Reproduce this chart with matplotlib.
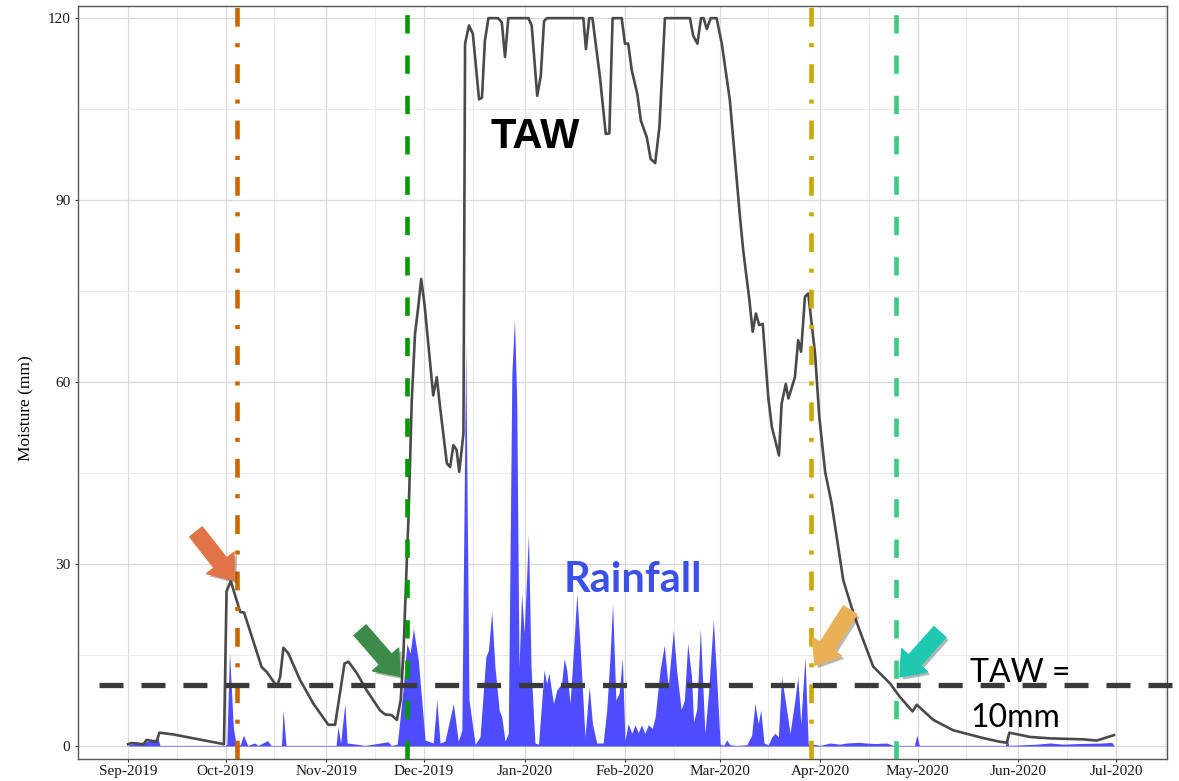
import numpy as np
import pandas as pd
import matplotlib
matplotlib.use("Agg")
import matplotlib.pyplot as plt
import matplotlib.dates as mdates
import matplotlib.patheffects as pe

start = pd.Timestamp("2019-09-01")

# TAW (mm), day offset from 1 Sep 2019
taw_day = [0, 1, 4.7, 5.7, 8.8, 9.6, 14, 29.5, 30.3, 31.6, 34.5, 35.7, 38.1, 41.1, 42.7,
           45.8, 46.8, 47.8, 49.3, 52.9, 57.0, 61.6, 63.7, 64.7, 66.6, 67.8, 70.4, 73.4,
           77.5, 79.1, 81.1, 82.7, 83.9, 84.7, 85.8, 86.3, 87.3, 88.3, 89.3, 90.2, 91.2,
           93.9, 95.0, 96.0, 98.1, 99.1, 100.1, 101.1, 101.9, 103.2, 103.7, 104.9, 106.1,
           108.0, 108.9, 109.8, 110.9, 113.9, 115.0, 116.0, 117.0, 123.2, 124.2, 125.9,
           127.0, 128.0, 128.9, 140.1, 140.9, 141.9, 142.9, 145.2, 147.0, 148.1, 149.1,
           151.9, 152.9, 153.9, 155.0, 156.7, 157.8, 159.6, 160.8, 162.2, 163.5, 165.2,
           172.9, 173.9, 175.2, 176.3, 177.1, 178.1, 179.3, 181.1, 182.7, 185.2, 188.3,
           189.3, 191.2, 192.2, 193.2, 194.2, 195.3, 197.0, 198.1, 200.3, 201.1, 202.4,
           203.2, 205.2, 206.2, 207.1, 208.3, 209.3, 211.4, 212.7, 214.5, 216.5, 220.1,
           223.2, 226.2, 229.3, 234.5, 237.5, 241.4, 242.7, 247.8, 253.9, 263.2, 268.3,
           270.4, 271.2, 277.5, 283.7, 293.9, 298.1, 301.6, 303.4]
taw_mm = [0.3, 0.5, 0.3, 1.0, 0.7, 2.2, 1.9, 0.3, 25.5, 27.2, 22.1, 22.0, 18.0, 13.0, 12.2,
          9.8, 11.4, 16.2, 15.3, 10.9, 7.0, 3.5, 3.5, 7.0, 13.6, 13.9, 12.0, 9.2,
          5.9, 5.2, 5.1, 4.3, 7.6, 14.7, 31.0, 37.8, 57.0, 68.0, 72.4, 77.0, 72.9,
          57.8, 60.8, 55.9, 46.6, 46.0, 49.6, 48.8, 45.2, 51.5, 115.8, 118.8, 117.4,
          106.6, 106.9, 116.3, 120, 120, 119.3, 113.6, 120, 120, 118.8, 107.2,
          110.5, 119.5, 120, 120, 114.9, 120, 120, 110.3, 100.9, 101.0, 120,
          120, 115.8, 115.8, 111.4, 107.5, 103.1, 100.4, 96.8, 96.1, 102.0, 120,
          120, 117.1, 115.8, 120, 120, 118.2, 120, 120, 115.8, 106.4, 87.2,
          81.7, 73.5, 68.3, 71.3, 69.4, 69.6, 57.5, 52.6, 47.9, 56.4, 59.7,
          57.3, 60.8, 66.9, 65.0, 74.1, 74.6, 64.7, 54.3, 45.2, 40.0, 27.3,
          21.9, 17.5, 13.1, 10.3, 8.1, 5.7, 6.8, 4.3, 2.6, 1.3, 0.7,
          0.55, 2.2, 1.5, 1.26, 1.1, 0.9, 1.5, 1.8]

# Rainfall (mm), day offset from 1 Sep 2019
rain_day = [0, 0.5, 5.6, 9.2, 9.8, 29.8, 30.4, 31.2, 32.4, 33.2, 34.5, 35.5, 36.8, 39.0, 40.0,
            42.9, 44.0, 47.2, 47.7, 48.6, 64.0, 64.6, 65.4, 66.7, 67.4, 70.3, 73.0, 80.0,
            81.0, 82.8, 83.2, 84.7, 85.8, 86.8, 87.8, 89.3, 91.4, 93.9, 95.0, 96.0, 97.5,
            100.1, 101.6, 102.7, 103.9, 104.9, 106.8, 108.3, 110.1, 110.9, 111.9, 112.9,
            114.2, 115.0, 116.0, 117.0, 118.1, 118.9, 119.6, 120.3, 121.1, 121.9, 123.2,
            124.0, 125.2, 126.3, 128.0, 128.8, 129.5, 130.9, 131.9, 133.4, 134.2, 135.0,
            136.0, 137.0, 138.1, 139.1, 140.6, 141.9, 142.9, 144.2, 146.2, 147.3, 148.3,
            149.1, 150.1, 151.1, 152.1, 152.9, 153.9, 155.0, 156.0, 157.0, 158.0, 159.0,
            160.1, 161.3, 162.2, 163.7, 165.0, 166.2, 167.8, 168.8, 170.2, 171.2, 172.2,
            173.4, 174.0, 175.0, 176.1, 177.5, 178.6, 180.1, 181.1, 182.2, 183.3, 184.2,
            185.2, 187.3, 190.4, 191.9, 192.9, 193.9, 194.7, 195.7, 197.0, 198.1, 199.1,
            200.1, 201.1, 202.2, 203.7, 205.2, 206.1, 207.0, 208.3, 209.3, 210.9, 213.0,
            216.0, 219.1, 221.1, 224.7, 229.8, 233.4, 235.4, 242.0, 242.7, 243.5, 270.0,
            270.4, 271.0, 279.6, 283.7, 287.8, 291.9, 300.1, 302.7, 303.4]
rain_mm = [0, 0.3, 0.7, 1.3, 0.1, 0.1, 0.3, 15.5, 3.0, 0.3, 0.2, 1.8, 0.1, 0.5, 0.1,
           0.9, 0.1, 0.1, 5.9, 0.1, 0.1, 3.2, 0.5, 7.0, 0.5, 0.3, 0.1, 0.7,
           0.1, 0.3, 2.1, 9.8, 16.9, 15.3, 19.4, 14.2, 1.0, 0.5, 7.6, 0.5, 0.8,
           7.0, 0.8, 2.6, 66.3, 7.6, 0.3, 1.5, 14.7, 15.8, 22.1, 13.0,
           5.9, 4.8, 0.8, 2.1, 61.4, 70.4, 57.0, 13.0, 25.1, 18.6, 35.0,
           13.0, 0.5, 0.3, 12.5, 10.3, 12.0, 7.0, 9.2, 10.3, 14.4, 12.5,
           7.0, 15.3, 25.1, 16.4, 1.5, 9.8, 3.7, 0.5, 0.5, 6.0, 14.7,
           23.5, 7.6, 8.7, 14.4, 0.9, 3.7, 2.1, 3.5, 2.2, 3.5, 2.1,
           3.5, 2.9, 4.8, 12.5, 16.6, 9.8, 19.1, 12.5, 6.0, 7.6, 16.9,
           11.4, 4.0, 6.0, 19.4, 2.1, 8.7, 20.8, 11.4, 0.3, 0.1, 1.0,
           0.2, 0.1, 0.2, 1.8, 7.0, 3.7, 5.9, 0.5, 0.2, 1.5, 2.1,
           1.5, 11.4, 7.6, 2.1, 7.6, 11.4, 3.7, 14.7, 0.3, 0.3, 0.1,
           0.5, 0.3, 0.5, 0.6, 0.4, 0.5, 0.1, 0.1, 1.8, 0.1, 0.1,
           1.6, 0.1, 0.3, 0.5, 0.3, 0.4, 0.5, 0.6, 0.1]

# event lines (day offset, colour, dash pattern)
event_day = [33.5, 85.9, 210.2, 236.4]
event_col = ["#CC6600", "#009900", "#CCA800", "#3CCB80"]
dashdot = (0, (4.1, 3.7, 0.9, 3.6))
dashed = (0, (4.0, 4.8))
event_ls = [dashdot, dashed, dashdot, dashed]

# arrows: tail (day, mm) -> tip (day, mm)
arrow_tail = [(20.9, 35.3), (71.4, 19.1), (222.2, 22.4), (249.8, 18.8)]
arrow_tip = [(32.6, 27.3), (83.7, 11.5), (211.4, 13.3), (237.5, 11.4)]
arrow_col = ["#E07446", "#3B8C4B", "#EAB055", "#1FC9B1"]

threshold = 10

def to_date(days):
    return start + pd.to_timedelta(np.asarray(days, dtype=float), unit="D")

fig = plt.figure(figsize=(11.79, 7.81), dpi=100)
ax = fig.add_axes([0.0662, 0.0288, 0.9236, 0.9635])

ax.fill_between(to_date(rain_day), 0, rain_mm, color="#4D4DFF", lw=0, zorder=2)
ax.plot(to_date(taw_day), taw_mm, color="#4a4a4a", lw=1.9, zorder=3)

for d, c, ls in zip(event_day, event_col, event_ls):
    ax.axvline(to_date([d])[0], color=c, lw=3.3, linestyle=ls, zorder=4)

ax.plot(to_date([-8.9, 330]), [threshold, threshold], color="#3a3a3a", lw=3.8,
        linestyle=(0, (4.55, 3.4)), clip_on=False, zorder=5, dash_capstyle="butt")

for (t0, t1), (h0, h1), c in zip(arrow_tail, arrow_tip, arrow_col):
    ann = ax.annotate("", xy=(to_date([h0])[0], h1), xytext=(to_date([t0])[0], t1),
                      arrowprops=dict(arrowstyle="simple,head_length=1.6,head_width=2.5,tail_width=1.15",
                                      color=c, shrinkA=0, shrinkB=0, mutation_scale=10),
                      zorder=6)
    ann.arrow_patch.set_path_effects([pe.SimplePatchShadow(offset=(2, -2), alpha=0.35),
                                      pe.Normal()])

ax.text(to_date([125.2])[0], 98.6, "TAW", fontsize=30, fontweight="bold",
        family="Liberation Sans", ha="center", va="baseline", color="black", zorder=7)
ax.text(to_date([155.4])[0], 25.4, "Rainfall", fontsize=30, fontweight="bold",
        family="Lato", ha="center", va="baseline", color="#3A50E6", zorder=7)
ax.text(to_date([259.1])[0], 10.5, "TAW =", fontsize=23, family="Lato",
        ha="left", va="baseline", color="black", zorder=7)
ax.text(to_date([259.1])[0], 3.1, "10mm", fontsize=23, family="Lato",
        ha="left", va="baseline", color="black", zorder=7)

ax.set_xlim(to_date([-15.4])[0], to_date([319.7])[0])
ax.set_ylim(-2.06, 122.0)
ax.set_yticks([0, 30, 60, 90, 120])
ax.set_yticks([15, 45, 75, 105], minor=True)
ax.xaxis.set_major_locator(mdates.MonthLocator())
ax.xaxis.set_minor_locator(mdates.MonthLocator(bymonthday=16))
ax.xaxis.set_major_formatter(mdates.DateFormatter("%b-%Y"))
ax.grid(True, which="major", color="#dadada", lw=0.9, zorder=0)
ax.grid(True, which="minor", color="#ebebeb", lw=0.7, zorder=0)
ax.set_axisbelow(True)
ax.tick_params(which="major", length=2.5, width=0.8, color="#333333", pad=3,
               labelsize=11)
ax.tick_params(axis="x", pad=2)
ax.tick_params(which="minor", length=0)
for lab in ax.get_xticklabels() + ax.get_yticklabels():
    lab.set_family("Liberation Serif")
    lab.set_color("#1a1a1a")
ax.set_ylabel("Moisture (mm)", family="Liberation Serif", fontsize=12.5, labelpad=6)
ax.yaxis.set_label_coords(-0.04, 0.465)
for s in ax.spines.values():
    s.set_color("#555555")
    s.set_linewidth(1.0)

fig.savefig("out.png", dpi=100)
